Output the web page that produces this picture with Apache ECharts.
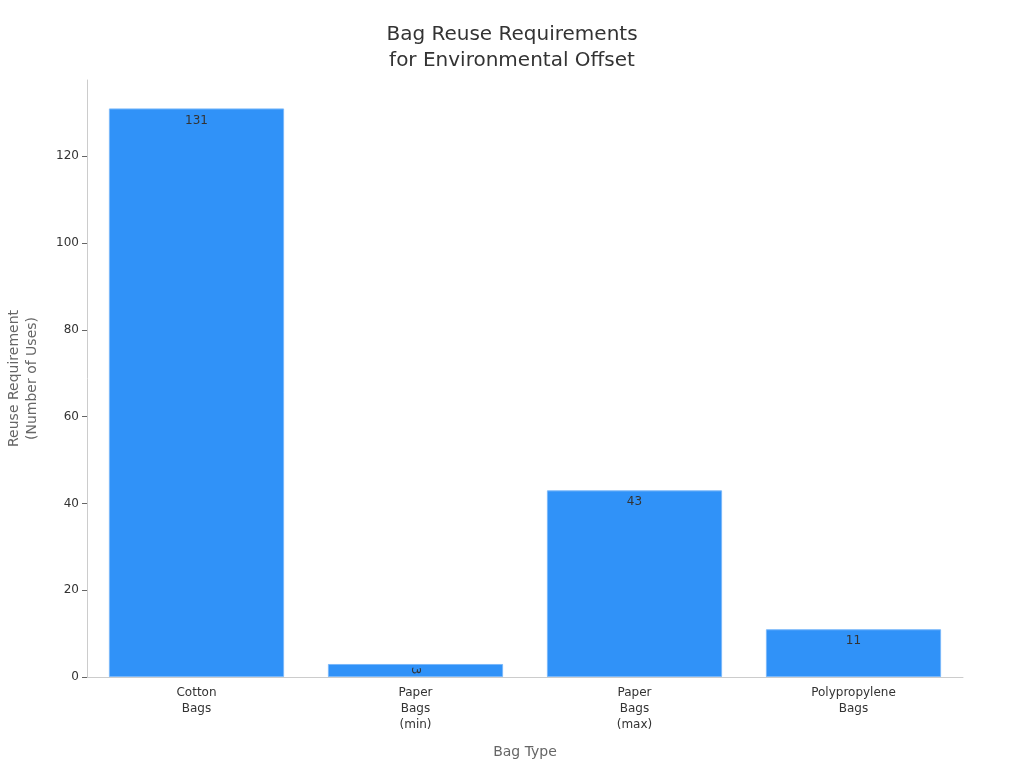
<!DOCTYPE html>
<html><head><meta charset="utf-8">
<script src="https://cdn.jsdelivr.net/npm/echarts@6/dist/echarts.min.js"></script>
<style>html,body{margin:0;padding:0;background:#fff}#c{width:1024px;height:768px}</style>
</head><body><div id="c"></div>
<script>
const categories = ["Cotton\nBags", "Paper\nBags\n(min)", "Paper\nBags\n(max)", "Polypropylene\nBags"];
const reuseValues = [131, 3, 43, 11];
const yTicks = [0, 20, 40, 60, 80, 100, 120];

const chart = echarts.init(document.getElementById('c'));
const font = "'DejaVu Sans', sans-serif";
chart.setOption({
  backgroundColor: '#fff',
  animation: false,
  title: {
    text: 'Bag Reuse Requirements\nfor Environmental Offset',
    left: 'center', top: 17,
    textStyle: { fontFamily: font, fontSize: 20, fontWeight: 'normal', color: '#333', lineHeight: 26 }
  },
  grid: { left: 87, right: 61, top: 80, bottom: 91, containLabel: false, outerBoundsMode: 'none' },
  xAxis: {
    type: 'category', data: categories,
    name: 'Bag Type', nameLocation: 'middle', nameGap: 68,
    nameTextStyle: { fontFamily: font, fontSize: 14, color: '#666' },
    axisLine: { lineStyle: { color: '#ccc' } },
    axisTick: { alignWithLabel: true, lineStyle: { color: '#666' }, length: 5 },
    axisLabel: { fontFamily: font, fontSize: 12, color: '#333', lineHeight: 16, margin: 8, interval: 0 }
  },
  yAxis: {
    type: 'value', min: 0, max: 137.55, interval: 20,
    name: 'Reuse Requirement\n(Number of Uses)', nameLocation: 'middle', nameGap: 46,
    nameTextStyle: { fontFamily: font, fontSize: 14, color: '#666', lineHeight: 18 },
    axisLine: { show: true, lineStyle: { color: '#ccc' } },
    axisTick: { show: true, lineStyle: { color: '#666' }, length: 5, customValues: yTicks },
    splitLine: { show: false },
    axisLabel: {
      fontFamily: font, fontSize: 12, color: '#333', margin: 8, customValues: yTicks
    }
  },
  series: [{
    type: 'bar',
    data: reuseValues.map(v => v < 5 ? { value: v, label: { rotate: -90, position: 'inside' } } : v),
    barWidth: '80%',
    itemStyle: { color: '#3092f8', borderColor: '#7ab8fa', borderWidth: 1 },
    label: {
      show: true, position: 'insideTop', distance: 6,
      fontFamily: font, fontSize: 12, color: '#333'
    }
  }]
});
</script></body></html>
